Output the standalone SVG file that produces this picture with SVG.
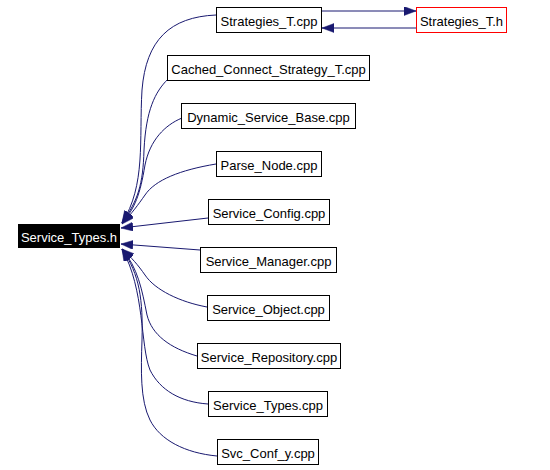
<svg xmlns="http://www.w3.org/2000/svg" width="550" height="470" viewBox="0 0 550 470">
<defs>
<marker id="ah" markerUnits="userSpaceOnUse" markerWidth="14" markerHeight="10" refX="12" refY="4.5" orient="auto">
<path d="M0,0 L12,4.5 L0,9 z" fill="#191970" stroke="#191970" stroke-width="0.5"/>
</marker>
<style>
.n rect{fill:#fff;stroke:#000;stroke-width:1}
.n text{font-family:"Liberation Sans",Arial,sans-serif;font-size:13px;fill:#000;text-anchor:middle}
.e path{fill:none;stroke:#191970;stroke-width:1;marker-end:url(#ah)}
</style>
</defs>
<rect width="550" height="470" fill="#fff"/>
<g id="edges" class="e">
<path d="M322,11 L416,11"/>
<path d="M417,28 L322,28"/>
<path d="M216,15 C170,17 146,40 142,90 C139,140 146,185 122,223"/>
<path d="M168,79 C155,92 146,110 144,150 C143,185 138,200 122,223"/>
<path d="M182,118 C165,125 150,140 145,165 C140,195 135,208 122,223"/>
<path d="M216,164 C180,170 155,180 145,195 C138,205 132,213 122,224"/>
<path d="M208,218 L121,228"/>
<path d="M200,250 L121,244"/>
<path d="M207,307 C180,302 155,290 145,275 C138,265 132,258 122,249"/>
<path d="M197,356 C170,348 152,335 147,315 C142,290 138,268 122,249"/>
<path d="M208,404 C180,402 160,390 150,370 C140,345 145,290 122,249"/>
<path d="M217,456 C185,453 160,440 150,420 C140,400 141,370 142,340 C143,300 140,275 122,249"/>
</g>
<g id="Service_Types_h"><rect x="18" y="224" width="102" height="24" fill="#000"/><text x="69" y="242" style="font-family:'Liberation Sans',Arial,sans-serif;font-size:13px;fill:#fff;text-anchor:middle">Service_Types.h</text></g>
<g id="Strategies_T_cpp" class="n"><rect x="216.5" y="7.5" width="105" height="25"/><text x="269" y="26">Strategies_T.cpp</text></g>
<g id="Strategies_T_h" class="n"><rect x="416.5" y="7.5" width="90" height="25" style="stroke:#f00"/><text x="461.5" y="26">Strategies_T.h</text></g>
<g id="Cached_Connect_Strategy_T_cpp" class="n"><rect x="167.5" y="55.5" width="202" height="25"/><text x="268.5" y="74">Cached_Connect_Strategy_T.cpp</text></g>
<g id="Dynamic_Service_Base_cpp" class="n"><rect x="181.5" y="103.5" width="174" height="25"/><text x="268.5" y="122">Dynamic_Service_Base.cpp</text></g>
<g id="Parse_Node_cpp" class="n"><rect x="216.5" y="151.5" width="105" height="25"/><text x="269" y="170">Parse_Node.cpp</text></g>
<g id="Service_Config_cpp" class="n"><rect x="208.5" y="199.5" width="121" height="25"/><text x="269" y="218">Service_Config.cpp</text></g>
<g id="Service_Manager_cpp" class="n"><rect x="200.5" y="247.5" width="136" height="25"/><text x="268.5" y="266">Service_Manager.cpp</text></g>
<g id="Service_Object_cpp" class="n"><rect x="207.5" y="295.5" width="122" height="25"/><text x="268.5" y="314">Service_Object.cpp</text></g>
<g id="Service_Repository_cpp" class="n"><rect x="197.5" y="343.5" width="143" height="25"/><text x="269" y="362">Service_Repository.cpp</text></g>
<g id="Service_Types_cpp" class="n"><rect x="208.5" y="391.5" width="119" height="25"/><text x="268" y="410">Service_Types.cpp</text></g>
<g id="Svc_Conf_y_cpp" class="n"><rect x="217.5" y="439.5" width="101" height="25"/><text x="268" y="458">Svc_Conf_y.cpp</text></g>
</svg>
